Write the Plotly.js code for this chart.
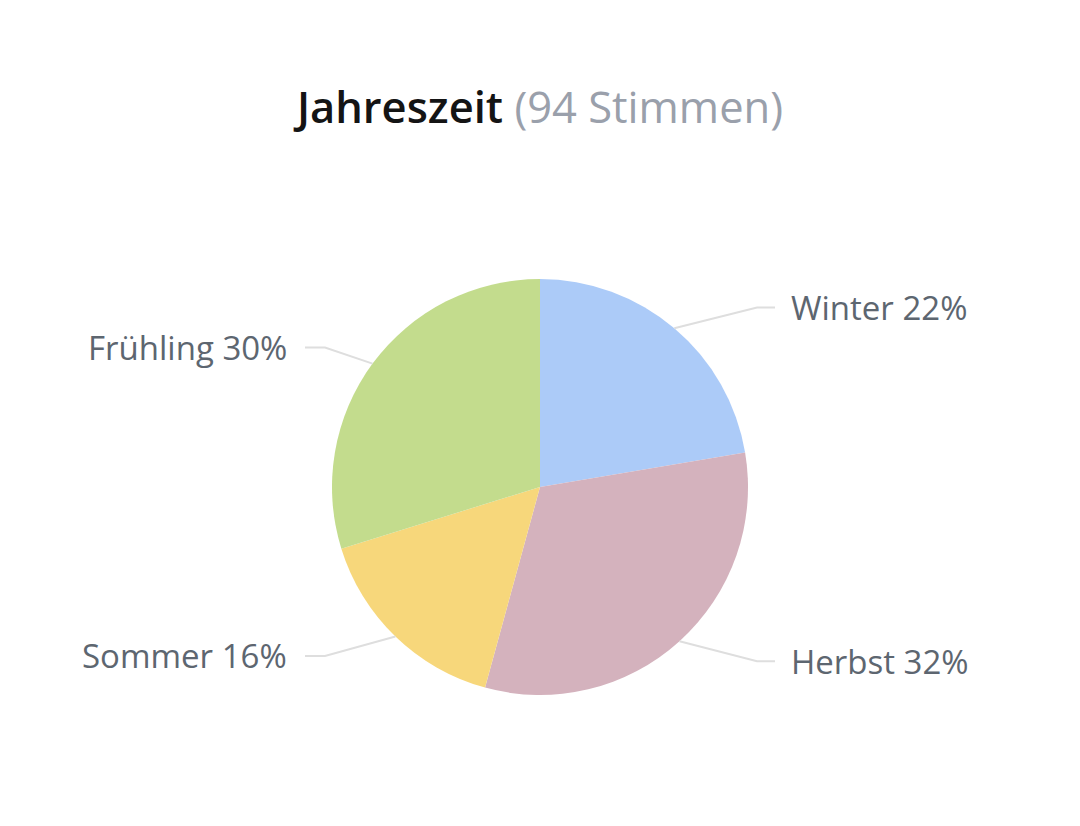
<!DOCTYPE html>
<html>
<head>
<meta charset="utf-8">
<script src="https://cdn.plot.ly/plotly-3.0.1.min.js"></script>
<style>html,body{margin:0;padding:0;background:#fff;}#chart{width:1080px;height:826px;}</style>
</head>
<body>
<div id="chart"></div>
<script>
const categories = ["Winter", "Herbst", "Sommer", "Frühling"];
const votes = [21, 30, 15, 28];
const colors = ["#accbf8", "#d4b2bd", "#f7d77b", "#c3dc8d"];
const titleMain = "Jahreszeit";
const titleSub = "(94 Stimmen)";

const W = 1080, H = 826;
const cx = 540, cy = 487, R = 208;
const total = votes.reduce((a, b) => a + b, 0);

const px = x => x / W;
const py = y => 1 - y / H;

const annotations = [];
const shapes = [];
let acc = 0;
votes.forEach((v, i) => {
  const mid = (acc + v / 2) / total * 2 * Math.PI;
  acc += v;
  const s = Math.sin(mid), c = Math.cos(mid);
  const ex = cx + R * s, ey = cy - R * c;
  const ly = cy - (R + 27) * c;
  const right = s >= 0;
  const elbowX = right ? cx + 217 : cx - 215;
  const endX = right ? cx + 235 : cx - 235;
  const textX = right ? cx + 249 : cx - 251;
  const pct = Math.round(v / total * 100);
  shapes.push({
    type: "path", xref: "paper", yref: "paper",
    path: `M ${px(ex)} ${py(ey)} L ${px(elbowX)} ${py(ly)} L ${px(endX)} ${py(ly)}`,
    line: {color: "#dedede", width: 2}
  });
  annotations.push({
    xref: "paper", yref: "paper", x: px(textX), y: py(ly),
    xanchor: right ? "left" : "right", yanchor: "middle",
    text: categories[i] + " " + pct + "%", showarrow: false,
    font: {family: "Open Sans", size: 33, color: "#5d6670"}
  });
});

const data = [{
  type: "pie",
  labels: categories,
  values: votes,
  marker: {colors: colors, line: {width: 0}},
  sort: false,
  direction: "clockwise",
  rotation: 0,
  textinfo: "none",
  hoverinfo: "label+percent",
  domain: {x: [(cx - R) / W, (cx + R) / W], y: [1 - (cy + R) / H, 1 - (cy - R) / H]}
}];

const layout = {
  width: W, height: H,
  margin: {l: 0, r: 0, t: 0, b: 0},
  paper_bgcolor: "#ffffff",
  showlegend: false,
  title: {
    text: "<span style='font-weight:600'>" + titleMain + "</span> <span style='color:#9aa0ab'>" + titleSub + "</span>",
    font: {family: "Open Sans", size: 43.5, color: "#141414"},
    x: 0.5, xanchor: "center", xref: "paper",
    y: 1 - 108 / H, yanchor: "middle", yref: "container"
  },
  shapes: shapes,
  annotations: annotations
};

Plotly.newPlot("chart", data, layout, {displayModeBar: false, staticPlot: true});
</script>
</body>
</html>
